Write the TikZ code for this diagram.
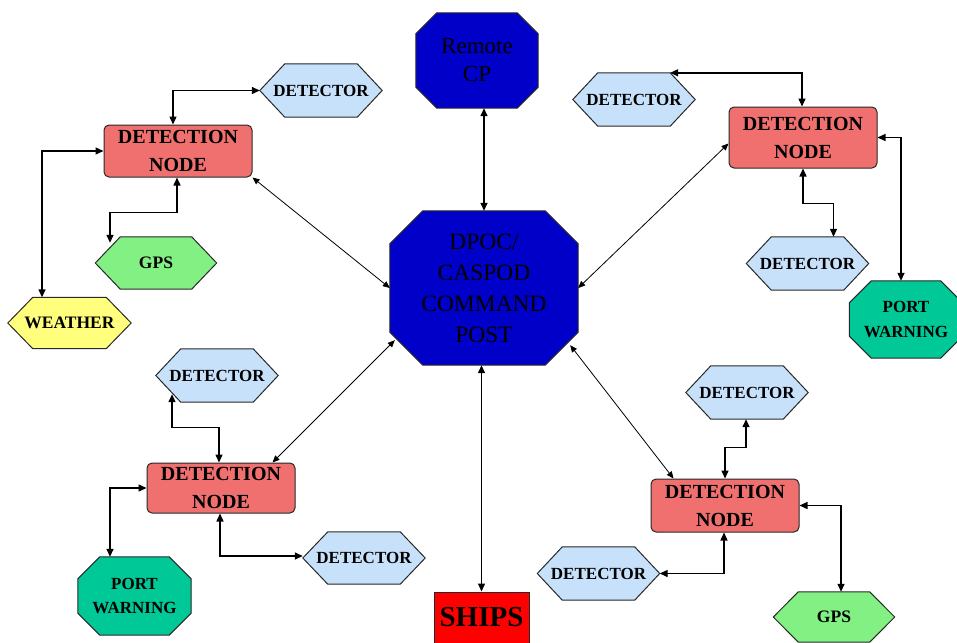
\documentclass[tikz,border=0pt]{standalone}
\usepackage{fontspec}
\setmainfont{Liberation Serif}
\usetikzlibrary{arrows.meta,backgrounds,calc}
\definecolor{detfill}{RGB}{200,225,250}
\definecolor{nodefill}{RGB}{240,112,112}
\definecolor{gpsfill}{RGB}{130,240,130}
\definecolor{wxfill}{RGB}{255,255,125}
\definecolor{pwfill}{RGB}{0,200,150}
\definecolor{cpfill}{RGB}{0,0,200}
\definecolor{shipfill}{RGB}{255,0,0}
\definecolor{edge}{RGB}{40,40,40}
\newcommand\hexpath[3]{\path[#3] ([xshift=#2]#1.north west) -- ([xshift=-#2]#1.north east) -- (#1.east) -- ([xshift=-#2]#1.south east) -- ([xshift=#2]#1.south west) -- (#1.west) -- cycle;}
\newcommand\octpath[3]{\path[#3] ([xshift=#2]#1.north west) -- ([xshift=-#2]#1.north east) -- ([yshift=-#2]#1.north east) -- ([yshift=#2]#1.south east) -- ([xshift=-#2]#1.south east) -- ([xshift=#2]#1.south west) -- ([yshift=#2]#1.south west) -- ([yshift=-#2]#1.north west) -- cycle;}
\tikzset{
  base/.style={inner sep=0pt, align=center, text=black},
  detnode/.style={base, draw=edge, line width=1pt, fill=nodefill, rounded corners=5pt,
    font=\fontsize{20}{28}\selectfont\bfseries, minimum width=148pt},
  detector/.style={base, font=\fontsize{17}{20}\selectfont\bfseries, minimum width=122pt, minimum height=53pt},
  gpsbox/.style={base, font=\fontsize{17.5}{20}\selectfont\bfseries, minimum width=121pt, minimum height=52pt},
  pwbox/.style={base, font=\fontsize{17}{24.5}\selectfont\bfseries, minimum width=113pt, minimum height=77pt},
  outline/.style={draw=edge, line width=1pt},
  conn/.style={draw=black, line width=1.4pt, {Triangle[length=8pt,width=7pt]}-{Triangle[length=8pt,width=7pt]}},
  diag/.style={draw=black, line width=0.8pt, {Triangle[length=7pt,width=6pt]}-{Triangle[length=7pt,width=6pt]}},
}
\begin{document}
\begin{tikzpicture}[x=1pt,y=-1pt]
\useasboundingbox (0,0) rectangle (957,642);
% central nodes
\node[base, font=\fontsize{23}{28}\selectfont, minimum width=122pt, minimum height=95pt] (rcp) at (477,60.5) {Remote\\CP};
\node[base, font=\fontsize{23.5}{31}\selectfont, minimum width=188pt, minimum height=154pt] (dpoc) at (484,288) {DPOC/\\CASPOD\\COMMAND\\POST};
\node[base, draw=edge, line width=1pt, fill=shipfill, minimum width=95pt, minimum height=60pt] (ships) at (481.5,622) {};
\node[base, font=\fontsize{29}{30}\selectfont\bfseries] (shipstxt) at (481.5,617) {SHIPS};
% detection nodes
\node[detnode, minimum height=52pt] (tl) at (178,151) {DETECTION\\NODE};
\node[detnode, minimum height=61pt] (tr) at (803,137.5) {DETECTION\\NODE};
\node[detnode, minimum height=50pt] (bl) at (221,488) {DETECTION\\NODE};
\node[detnode, minimum height=53pt] (br) at (725,505.5) {DETECTION\\NODE};
% hexagons
\node[detector] (dtl) at (321,90.5) {DETECTOR};
\node[gpsbox] (gps1) at (156,263) {GPS};
\node[base, font=\fontsize{17.5}{20}\selectfont\bfseries, minimum width=123pt, minimum height=51pt] (wx) at (69.5,323) {WEATHER};
\node[detector] (dtr1) at (634,99.5) {DETECTOR};
\node[detector] (dtr2) at (807.5,263.5) {DETECTOR};
\node[detector] (dbl1) at (217,375.5) {DETECTOR};
\node[detector, minimum height=52pt] (dbl2) at (364,558) {DETECTOR};
\node[detector] (dbr1) at (747,392.5) {DETECTOR};
\node[detector] (dbr2) at (598.5,573.5) {DETECTOR};
\node[gpsbox, minimum height=50pt] (gps2) at (834,617) {GPS};
% octagons
\node[pwbox] (pwtr) at (906,319.5) {PORT\\WARNING};
\node[pwbox, minimum height=78pt] (pwbl) at (134.5,596) {PORT\\WARNING};
\begin{scope}[on background layer]
  \octpath{rcp}{21pt}{outline, fill=cpfill}
  \octpath{dpoc}{33pt}{outline, fill=cpfill}
  \octpath{pwtr}{22pt}{outline, fill=pwfill}
  \octpath{pwbl}{22pt}{outline, fill=pwfill}
  \hexpath{dtl}{25pt}{outline, fill=detfill}
  \hexpath{dtr1}{25pt}{outline, fill=detfill}
  \hexpath{dtr2}{25pt}{outline, fill=detfill}
  \hexpath{dbl1}{25pt}{outline, fill=detfill}
  \hexpath{dbl2}{25pt}{outline, fill=detfill}
  \hexpath{dbr1}{25pt}{outline, fill=detfill}
  \hexpath{dbr2}{25pt}{outline, fill=detfill}
  \hexpath{gps1}{25pt}{outline, fill=gpsfill}
  \hexpath{gps2}{25pt}{outline, fill=gpsfill}
  \hexpath{wx}{25pt}{outline, fill=wxfill}
\end{scope}
% connectors: central
\draw[conn] (rcp.south -| dpoc.north) -- (dpoc.north);
\draw[conn] (dpoc.south -| ships.north) -- (ships.north);
\draw[diag] (tl.south east) -- (dpoc.west);
\draw[diag] (dpoc.east) -- ([yshift=-6pt]tr.west);
\draw[diag] ([xshift=5pt,yshift=25pt]dpoc.south west) -- ([xshift=-23pt]bl.north east);
\draw[diag] ([xshift=-8pt,yshift=20pt]dpoc.south east) -- ([xshift=23pt]br.north west);
% top-left cluster
\draw[conn] ([xshift=-5pt]tl.north) |- (dtl.west);
\draw[conn] (tl.west) -| ([xshift=-27.5pt]wx.north);
\draw[conn] ([xshift=-1pt]tl.south) -- ++(0,35) -| ([xshift=-46pt,yshift=-6pt]gps1.north);
% top-right cluster
\draw[conn] ([xshift=-25pt]dtr1.north east) -| ([xshift=-1pt]tr.north);
\draw[conn] (tr.south) -- ++(0,35) -| ([xshift=26pt]dtr2.north);
\draw[conn] (tr.east) -| ([xshift=-5pt]pwtr.north);
% bottom-left cluster
\draw[conn] ([xshift=-45pt,yshift=8pt]dbl1.south) -- ++(0,33) -| ([xshift=-2pt]bl.north);
\draw[conn] (bl.west) -| ([xshift=-24.5pt]pwbl.north);
\draw[conn] ([xshift=-1pt]bl.south) |- ([yshift=2pt]dbl2.west);
% bottom-right cluster
\draw[conn] (br.north) -- ++(0,-31) -| ([xshift=-1pt]dbr1.south);
\draw[conn] ([xshift=-1pt]br.south) |- (dbr2.east);
\draw[conn] (br.east) -| ([xshift=7pt]gps2.north);
\end{tikzpicture}
\end{document}
